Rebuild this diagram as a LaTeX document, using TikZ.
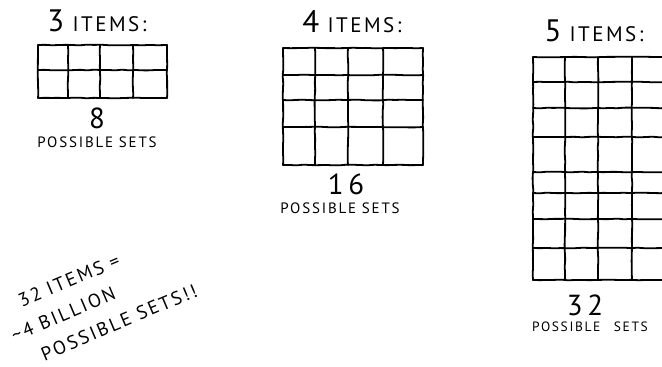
\documentclass[tikz,border=0pt]{standalone}
\usepackage{fontspec}
\usepackage{tikz}
\usetikzlibrary{decorations.pathmorphing}
\newfontfamily\handfont[LetterSpace=12]{PT Sans}
\newcommand{\digitsize}{\fontsize{31}{34}\selectfont}
\newcommand{\itemsize}{\fontsize{21}{24}\selectfont}
\newcommand{\setsize}{\fontsize{15}{17}\selectfont}
\pgfmathsetseed{11}

\begin{document}
\begin{tikzpicture}[
    x=1pt, y=-1pt,
    pen/.style={
        line width=1.8pt,
        line cap=round,
        decorate,
        decoration={random steps, segment length=7pt, amplitude=0.4pt},
        rounded corners=1.5pt
    },
    title/.style={font=\handfont\itemsize, inner sep=0pt, anchor=base},
    count/.style={font=\handfont\fontsize{29}{32}\selectfont, inner sep=0pt},
    sets/.style={font=\handfont\setsize, inner sep=0pt},
    note/.style={font=\handfont\fontsize{19}{29}\selectfont, inner sep=0pt,
        rotate=23, align=left}
]
\useasboundingbox (0,0) rectangle (662,367);

% ============================================================
% 3 ITEMS
% ============================================================
\node[title] (title3) at (97,31) {{\digitsize 3} ITEMS:};
\foreach \x in {38,68,100,133,167}
    \draw[pen] (\x,45) -- (\x,98);
\foreach \y in {45,70,98}
    \draw[pen] (38,\y) -- (167,\y);
\node[count] (count3) at (97,118) {8};
\node[sets] (sets3) at (97,142) {POSSIBLE SETS};

% ============================================================
% 4 ITEMS
% ============================================================
\node[title] (title4) at (352,32) {{\digitsize 4} ITEMS:};
\foreach \x in {283,315,348,383,423}
    \draw[pen] (\x,48) -- (\x,165);
\foreach \y in {48,75,100,127,165}
    \draw[pen] (283,\y) -- (423,\y);
\node[count] (count4) at (346,184) {1\,6};
\node[sets] (sets4) at (340,208) {POSSIBLE SETS};

% ============================================================
% 5 ITEMS
% ============================================================
\node[title] (title5) at (594,41) {{\digitsize 5} ITEMS:};
\foreach \x in {533,565,598,632,668}
    \draw[pen] (\x,57) -- (\x,280);
\foreach \y in {57,82,108,137,172,193,219,248,280}
    \draw[pen] (533,\y) -- (668,\y);
\node[count] (count5) at (585,305) {3\,2};
\node[sets, font=\handfont\fontsize{13.5}{16}\selectfont] (sets5) at (590,327)
    {POSSIBLE\quad SETS};

% ============================================================
% 32 ITEMS
% ============================================================
\node[note, anchor=north west] (note) at (-2,303)
    {\hspace*{20pt}32 ITEMS =\\
     \textasciitilde 4 BILLION\\
     \hspace*{20pt}POSSIBLE SETS!!};

\end{tikzpicture}
\end{document}
